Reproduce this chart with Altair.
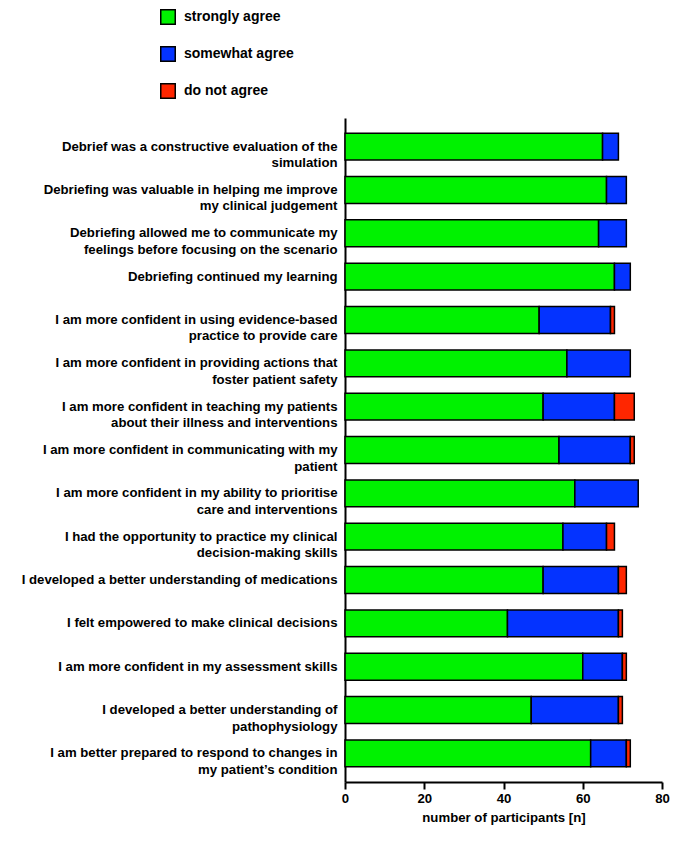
import altair as alt
import pandas as pd

statements = [
    "Debrief was a constructive evaluation of the|simulation",
    "Debriefing was valuable in helping me improve|my clinical judgement",
    "Debriefing allowed me to communicate my|feelings before focusing on the scenario",
    "Debriefing continued my learning",
    "I am more confident in using evidence-based|practice to provide care",
    "I am more confident in providing actions that|foster patient safety",
    "I am more confident in teaching my patients|about their illness and interventions",
    "I am more confident in communicating with my|patient",
    "I am more confident in my ability to prioritise|care and interventions",
    "I had the opportunity to practice my clinical|decision-making skills",
    "I developed a better understanding of medications",
    "I felt empowered to make clinical decisions",
    "I am more confident in my assessment skills",
    "I developed a better understanding of|pathophysiology",
    "I am better prepared to respond to changes in|my patient\u2019s condition",
]
strongly = [65, 66, 64, 68, 49, 56, 50, 54, 58, 55, 50, 41, 60, 47, 62]
somewhat = [4, 5, 7, 4, 18, 16, 18, 18, 16, 11, 19, 28, 10, 22, 9]
notagree = [0, 0, 0, 0, 1, 0, 5, 1, 0, 2, 2, 1, 1, 1, 1]

categories = ["strongly agree", "somewhat agree", "do not agree"]
colors = ["#00F200", "#0433FF", "#FF2600"]

rows = []
for i, s in enumerate(statements):
    for k, (cat, vals) in enumerate(zip(categories, [strongly, somewhat, notagree])):
        if vals[i] > 0:
            rows.append({"statement": s, "category": cat, "n": vals[i], "order": k})
df = pd.DataFrame(rows)

FONT = "Liberation Sans"
FS = 13.2

chart = alt.Chart(df).mark_bar(stroke="black", strokeWidth=1.5).encode(
    y=alt.Y(
        "statement:N",
        sort=statements,
        scale=alt.Scale(paddingInner=0.38, paddingOuter=0.35),
        axis=alt.Axis(
            title=None,
            labelExpr="split(datum.label, '|')",
            labelFont=FONT,
            labelFontSize=FS,
            labelFontWeight="bold",
            labelColor="black",
            labelLimit=400,
            labelLineHeight=16.5,
            labelPadding=8,
            ticks=False,
            domainColor="black",
            domainWidth=2,
            minExtent=337,
            maxExtent=337,
        ),
    ),
    x=alt.X(
        "n:Q",
        stack="zero",
        scale=alt.Scale(domain=[0, 80], nice=False),
        axis=alt.Axis(
            title="number of participants [n]",
            values=[0, 20, 40, 60, 80],
            labelFlush=False,
            labelFont=FONT,
            labelFontSize=FS,
            labelFontWeight="bold",
            labelColor="black",
            titleFont=FONT,
            titleFontSize=FS,
            titleFontWeight="bold",
            titleColor="black",
            titlePadding=7,
            tickColor="black",
            tickWidth=2,
            tickSize=7,
            domainColor="black",
            domainWidth=2,
            grid=False,
            labelPadding=3,
        ),
    ),
    color=alt.Color(
        "category:N",
        scale=alt.Scale(domain=categories, range=colors),
        legend=alt.Legend(
            title=None,
            orient="none",
            legendX=-185,
            legendY=-109,
            symbolType="square",
            symbolSize=210,
            symbolStrokeColor="black",
            symbolStrokeWidth=1.5,
            symbolOpacity=1,
            labelFont=FONT,
            labelFontSize=14,
            labelFontWeight="bold",
            labelColor="black",
            rowPadding=15,
            labelOffset=8,
        ),
    ),
    order=alt.Order("order:Q"),
).properties(
    width=317,
    height=664,
    padding={"left": 337, "top": 110, "right": 8, "bottom": 48},
    autosize=alt.AutoSizeParams(type="none"),
).configure_view(stroke=None)

chart.save("out.html", embed_options={"renderer": "svg", "actions": False})
